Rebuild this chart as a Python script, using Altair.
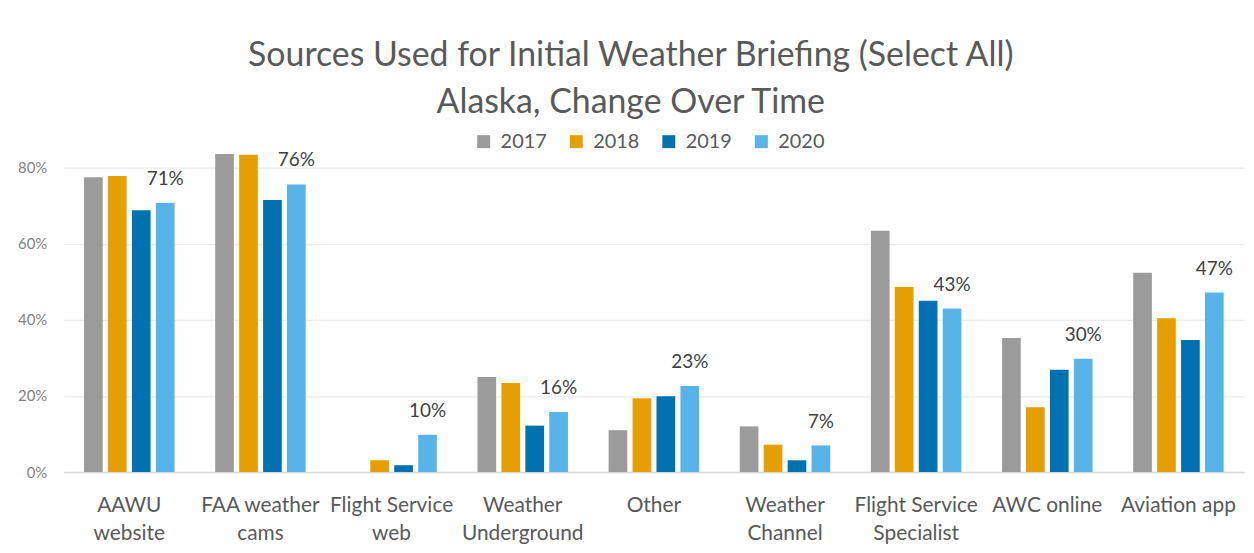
import altair as alt
import pandas as pd

categories = ["AAWU\nwebsite", "FAA weather\ncams", "Flight Service\nweb", "Weather\nUnderground",
              "Other", "Weather\nChannel", "Flight Service\nSpecialist", "AWC online", "Aviation app"]
years = ["2017", "2018", "2019", "2020"]
v2017 = [0.775, 0.836, None, 0.250, 0.110, 0.120, 0.634, 0.352, 0.524]
v2018 = [0.778, 0.834, 0.031, 0.234, 0.194, 0.072, 0.486, 0.170, 0.404]
v2019 = [0.688, 0.715, 0.018, 0.122, 0.199, 0.031, 0.450, 0.269, 0.347]
v2020 = [0.707, 0.756, 0.098, 0.158, 0.226, 0.070, 0.430, 0.298, 0.472]
colors = ["#9B9B9B", "#E69F00", "#0072B2", "#56B4E9"]

series = {"2017": v2017, "2018": v2018, "2019": v2019, "2020": v2020}
rows = []
for y in years:
    for c, v in zip(categories, series[y]):
        rows.append({"cat": c, "year": y, "value": v})
df = pd.DataFrame(rows)

FONT = "Lato"

base = alt.Chart(df).encode(
    x=alt.X("cat:N", sort=categories,
            scale=alt.Scale(paddingInner=0.31, paddingOuter=0.155),
            axis=alt.Axis(title=None, labelAngle=0, labelExpr="split(datum.label, '\\n')",
                          labelFontSize=21, labelColor="#595959", labelFont=FONT,
                          labelLineHeight=28, labelPadding=23, ticks=False,
                          domainColor="#D9D9D9", domainWidth=1.5, grid=False)),
    xOffset=alt.XOffset("year:N", scale=alt.Scale(domain=years, paddingInner=0.22, paddingOuter=0)),
    y=alt.Y("value:Q", scale=alt.Scale(domain=[0, 0.85], nice=False, zero=True),
            axis=alt.Axis(title=None, values=[0, 0.2, 0.4, 0.6, 0.8], format=".0%",
                          labelFontSize=15, labelColor="#7F7F7F", labelFont=FONT,
                          labelPadding=17, ticks=False, domain=False,
                          grid=True, gridColor="#EBEBEB", gridWidth=1.3)),
)

bars = base.mark_bar().encode(
    color=alt.Color("year:N", scale=alt.Scale(domain=years, range=colors),
                    legend=alt.Legend(title=None, orient="none", legendX=412, legendY=-17,
                                      direction="horizontal", symbolType="square",
                                      symbolSize=169, symbolStrokeWidth=0, symbolOpacity=1,
                                      labelFontSize=20, labelColor="#595959", labelFont=FONT,
                                      columnPadding=19, labelOffset=7, padding=0))
)

labels = base.transform_filter("datum.year == '2020'").mark_text(
    dy=-18, baseline="alphabetic", fontSize=19, color="#404040", font=FONT
).encode(text=alt.Text("value:Q", format=".0%"))

chart = alt.layer(bars, labels).properties(
    width=1186, height=325,
    autosize=alt.AutoSizeParams(type="none"),
    padding={"left": 56, "top": 140, "right": 2, "bottom": 72},
    background="white",
    title=alt.TitleParams(text=["Sources Used for Initial Weather Briefing (Select All)",
                                "Alaska, Change Over Time"],
                          fontSize=34, font=FONT, fontWeight="normal", color="#595959",
                          anchor="middle", frame="bounds", lineHeight=47, offset=12),
).configure_view(stroke=None)

chart.save("out.html", embed_options={"renderer": "svg", "actions": False})
